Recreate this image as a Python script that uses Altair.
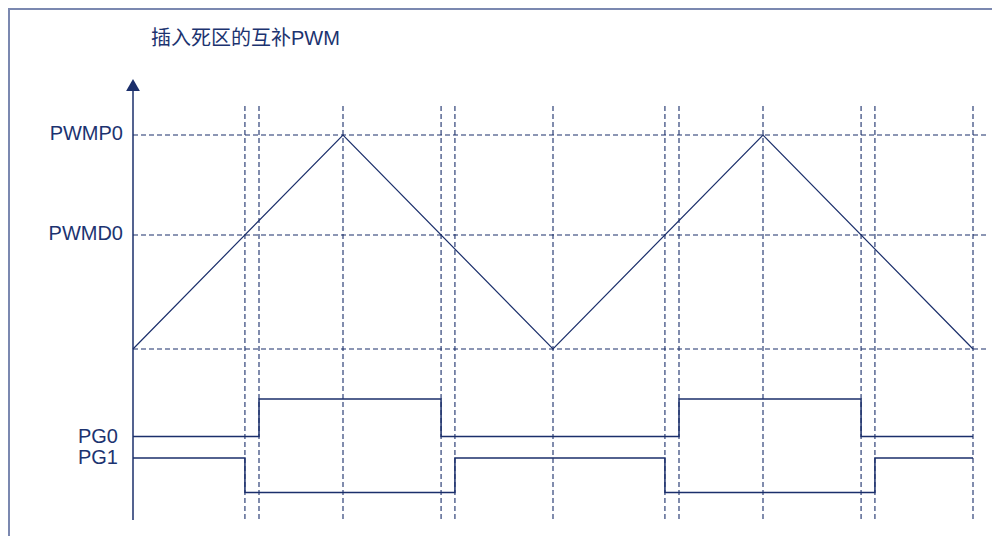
import altair as alt
import pandas as pd

# ---- data ----
tri_t = [0, 1, 2, 3, 4]
tri_v = [0, 1, 0, 1, 0]

PWMP0 = 1.0
PWMD0 = 0.533

pg0_t = [0, 0.6, 1.467, 2.6, 3.467, 4.0]
pg0_s = [0, 1, 0, 1, 0, 0]
pg1_t = [0, 0.533, 1.533, 2.533, 3.533, 4.0]
pg1_s = [1, 0, 1, 0, 1, 1]

pg0_low, pg0_high = -0.409, -0.234
pg1_low, pg1_high = -0.671, -0.509

vline_t = [0.533, 0.6, 1, 1.467, 1.533, 2, 2.533, 2.6, 3, 3.467, 3.533, 4]
hline_v = [PWMP0, PWMD0, 0]

label_names = ["PWMP0", "PWMD0"]
label_levels = [PWMP0, PWMD0]
pg_names = ["PG0", "PG1"]
pg_levels = [pg0_low, pg1_high]

title_text = "插入死区的互补PWM"

# ---- layout ----
W, H = 984, 528
X0, PX_PER_T = 125, 210     # local pixel of t=0 and pixels per time unit
Y0, PX_PER_V = 341, 214     # local pixel of v=0 and pixels per level unit

xs = alt.Scale(domain=[-X0 / PX_PER_T, (W - X0) / PX_PER_T], nice=False, zero=False)
ys = alt.Scale(domain=[(Y0 - H) / PX_PER_V, Y0 / PX_PER_V], nice=False, zero=False)

NAVY = "#1b2f6b"
TEXT = "#1c3370"
BORDER = "#7b88b0"
FONT = "Liberation Sans, Noto Sans CJK SC"

tri_df = pd.DataFrame({"t": tri_t, "v": tri_v})
pg0_df = pd.DataFrame({"t": pg0_t, "v": [pg0_high if s else pg0_low for s in pg0_s]})
pg1_df = pd.DataFrame({"t": pg1_t, "v": [pg1_high if s else pg1_low for s in pg1_s]})
vl_df = pd.DataFrame({"t": vline_t})
hl_df = pd.DataFrame({"v": hline_v})
lab_df = pd.DataFrame({"name": label_names, "v": label_levels})
pg_lab_df = pd.DataFrame({"name": pg_names, "v": pg_levels})
one = pd.DataFrame({"t": [0], "v": [0]})

X = lambda: alt.X("t:Q", scale=xs, axis=None)
Y = lambda: alt.Y("v:Q", scale=ys, axis=None)

border_left = alt.Chart(one).mark_rule(color=BORDER, strokeWidth=2).encode(
    x=alt.value(1), y=alt.value(0), y2=alt.value(H))
border_top = alt.Chart(one).mark_rule(color=BORDER, strokeWidth=2).encode(
    x=alt.value(0), x2=alt.value(W), y=alt.value(1))

vlines = alt.Chart(vl_df).mark_rule(color=NAVY, strokeWidth=1.1, strokeDash=[5, 3]).encode(
    x=X(), y=alt.value(98), y2=alt.value(512))
hlines = alt.Chart(hl_df).mark_rule(color=NAVY, strokeWidth=1.1, strokeDash=[5, 3]).encode(
    y=Y(), x=alt.value(X0), x2=alt.value(981))

axis_line = alt.Chart(one).mark_rule(color=NAVY, strokeWidth=1.5).encode(
    x=X(), y=alt.value(512), y2=alt.value(80))
arrow = alt.Chart(one).mark_point(
    shape="triangle-up", size=190, filled=True, color=NAVY, opacity=1, strokeWidth=0
).encode(x=X(), y=alt.value(77))

tri = alt.Chart(tri_df).mark_line(color=NAVY, strokeWidth=1.2).encode(x=X(), y=Y())
pg0 = alt.Chart(pg0_df).mark_line(color=NAVY, strokeWidth=1.5, interpolate="step-after").encode(x=X(), y=Y())
pg1 = alt.Chart(pg1_df).mark_line(color=NAVY, strokeWidth=1.5, interpolate="step-after").encode(x=X(), y=Y())

labels = alt.Chart(lab_df).mark_text(
    align="right", baseline="middle", font=FONT, fontSize=20, color=TEXT, dy=-1
).encode(x=alt.value(115), y=Y(), text="name:N")
pg_labels = alt.Chart(pg_lab_df).mark_text(
    align="right", baseline="middle", font=FONT, fontSize=20, color=TEXT, dy=0
).encode(x=alt.value(110), y=Y(), text="name:N")

title = alt.Chart(one).mark_text(
    align="left", baseline="middle", font=FONT, fontSize=20, color=TEXT
).encode(x=alt.value(143), y=alt.value(31), text=alt.value(title_text))

chart = alt.layer(
    border_left, border_top, vlines, hlines, axis_line, arrow, tri, pg0, pg1,
    labels, pg_labels, title
).properties(
    width=W, height=H, autosize="none", padding=0
).configure_view(stroke=None)

chart.save("out.html", embed_options={"renderer": "svg", "actions": False})
